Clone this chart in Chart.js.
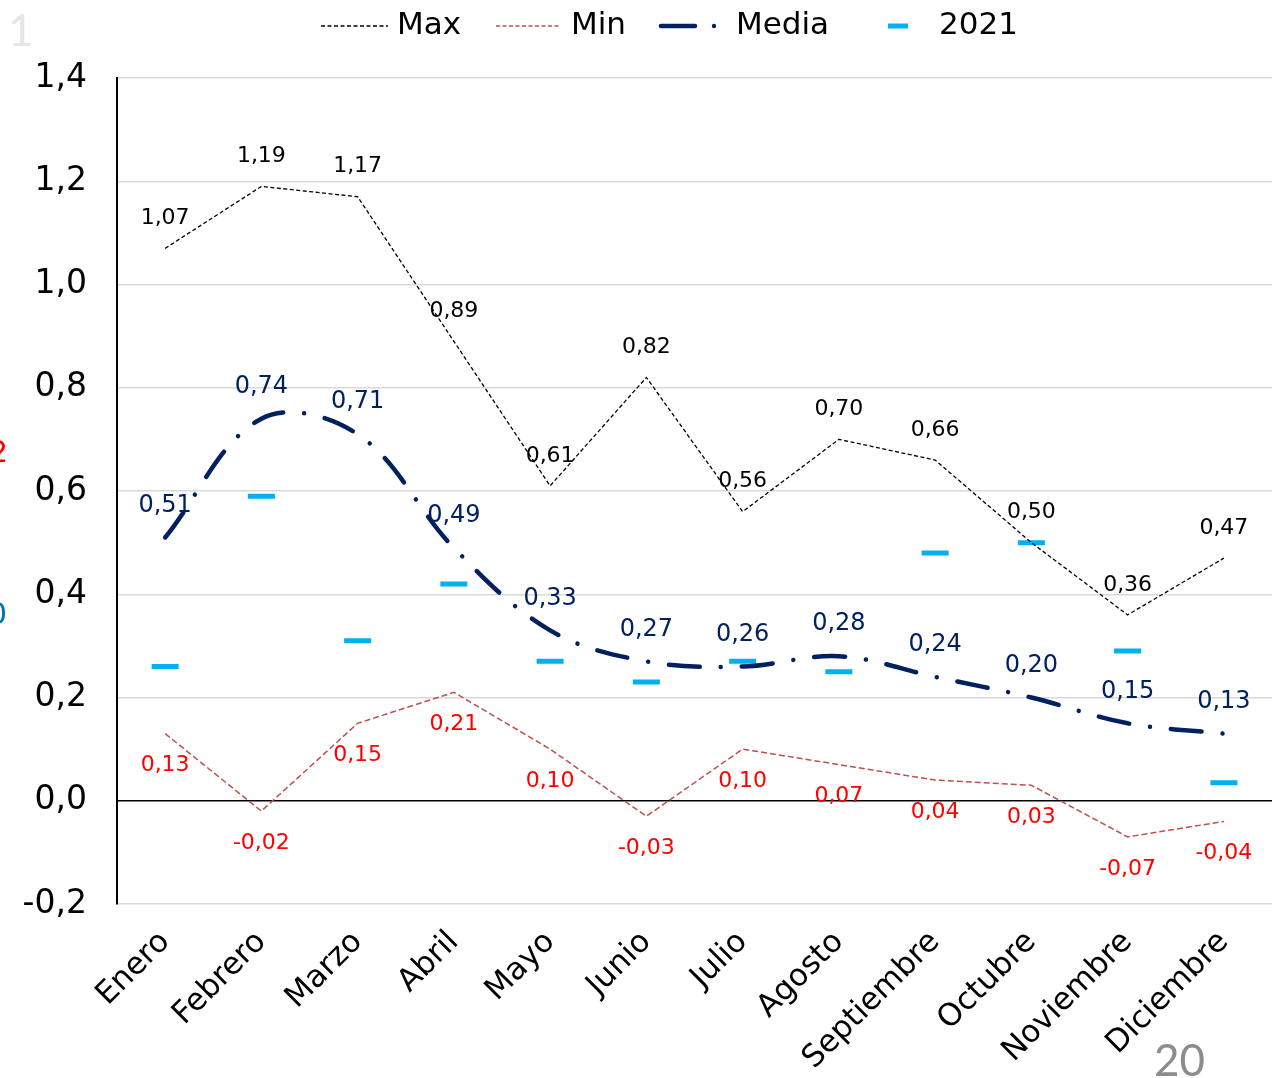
<!DOCTYPE html>
<html>
<head>
<meta charset="utf-8">
<script src="https://cdn.jsdelivr.net/npm/chart.js@4/dist/chart.umd.min.js"></script>
<style>
  html, body { margin: 0; padding: 0; background: #ffffff; overflow: hidden; }
  canvas { display: block; }
</style>
</head>
<body>
<canvas id="chart" width="1276" height="1078"></canvas>
<script>
// Monthly categories
const months = ['Enero', 'Febrero', 'Marzo', 'Abril', 'Mayo', 'Junio', 'Julio',
                'Agosto', 'Septiembre', 'Octubre', 'Noviembre', 'Diciembre'];

// Series values
const maxValues   = [1.07, 1.19, 1.17, 0.89, 0.61, 0.82, 0.56, 0.70, 0.66, 0.50, 0.36, 0.47];
const minValues   = [0.13, -0.02, 0.15, 0.21, 0.10, -0.03, 0.10, 0.07, 0.04, 0.03, -0.07, -0.04];
const mediaValues = [0.51, 0.74, 0.71, 0.49, 0.33, 0.27, 0.26, 0.28, 0.24, 0.20, 0.15, 0.13];
const values2021  = [0.26, 0.59, 0.31, 0.42, 0.27, 0.23, 0.27, 0.25, 0.48, 0.50, 0.29, 0.035];

// Value axis range
const yMin = -0.2;
const yMax = 1.4;
const yStep = 0.2;

const FONT = "'DejaVu Sans', Verdana, sans-serif";
const fmt = (v, d) => {
  const r = Number(v.toFixed(d));
  return (r === 0 ? 0 : r).toFixed(d).replace('.', ',');
};

// Writes each point's value next to it (datasets with a labelOffset)
const valueLabels = {
  id: 'valueLabels',
  afterDatasetsDraw(chart) {
    const ctx = chart.ctx;
    chart.data.datasets.forEach((ds, i) => {
      if (ds.labelOffset === undefined) return;
      const meta = chart.getDatasetMeta(i);
      ctx.save();
      ctx.font = ds.labelFont;
      ctx.fillStyle = ds.labelColor;
      ctx.textAlign = 'center';
      ctx.textBaseline = 'middle';
      meta.data.forEach((pt, j) => {
        ctx.fillText(fmt(ds.data[j], 2), pt.x, pt.y + ds.labelOffset);
      });
      ctx.restore();
    });
  }
};

// Legend row across the top, plus the loose page marks around the edge
const topLegend = {
  id: 'topLegend',
  afterDraw(chart) {
    const ctx = chart.ctx;
    const y = 26;
    ctx.save();
    ctx.font = '31px ' + FONT;
    ctx.textBaseline = 'middle';
    ctx.textAlign = 'left';

    // Max
    ctx.strokeStyle = '#000000';
    ctx.lineWidth = 1.3;
    ctx.setLineDash([4, 2.5]);
    ctx.beginPath(); ctx.moveTo(321, y); ctx.lineTo(388, y); ctx.stroke();
    ctx.fillStyle = '#000000';
    ctx.fillText('Max', 397, y);

    // Min
    ctx.strokeStyle = '#C0504D';
    ctx.beginPath(); ctx.moveTo(496, y); ctx.lineTo(561, y); ctx.stroke();
    ctx.fillText('Min', 571, y);

    // Media
    ctx.setLineDash([]);
    ctx.strokeStyle = '#002060';
    ctx.lineWidth = 4.5;
    ctx.lineCap = 'round';
    ctx.beginPath(); ctx.moveTo(661, y); ctx.lineTo(695, y); ctx.stroke();
    ctx.fillStyle = '#002060';
    ctx.beginPath(); ctx.arc(714, y, 2.2, 0, Math.PI * 2); ctx.fill();
    ctx.fillStyle = '#000000';
    ctx.fillText('Media', 736, y);

    // 2021
    ctx.fillStyle = '#00B0F0';
    ctx.fillRect(888, y - 2.5, 20, 5);
    ctx.fillStyle = '#000000';
    ctx.fillText('2021', 939, y);

    // page marks
    ctx.textBaseline = 'alphabetic';
    ctx.font = '44px Lato, sans-serif';
    ctx.fillStyle = '#e6e6e6';
    ctx.fillText('1', 8, 46);
    ctx.fillStyle = '#8c8c8c';
    ctx.fillText('20', 1154, 1076);
    ctx.font = '30px ' + FONT;
    ctx.fillStyle = '#ff0000';
    ctx.fillText('2', -11, 462);
    ctx.fillStyle = '#0070C0';
    ctx.fillText('0', -12, 624);
    ctx.restore();
  }
};

new Chart(document.getElementById('chart'), {
  type: 'line',
  data: {
    labels: months,
    datasets: [
      {
        label: 'Max',
        data: maxValues,
        borderColor: '#000000',
        borderWidth: 1.3,
        borderDash: [4, 2.5],
        pointRadius: 0,
        tension: 0,
        labelOffset: -30,
        labelFont: '22px ' + FONT,
        labelColor: '#000000'
      },
      {
        label: 'Min',
        data: minValues,
        borderColor: '#C0504D',
        borderWidth: 1.5,
        borderDash: [6, 3],
        pointRadius: 0,
        tension: 0,
        labelOffset: 32,
        labelFont: '22px ' + FONT,
        labelColor: '#ff0000'
      },
      {
        label: 'Media',
        data: mediaValues,
        borderColor: '#002060',
        borderWidth: 4.5,
        borderDash: [31, 21, 0.01, 21],
        borderCapStyle: 'round',
        pointRadius: 0,
        tension: 0.36,
        labelOffset: -32,
        labelFont: '24px ' + FONT,
        labelColor: '#002060'
      },
      {
        label: '2021',
        data: values2021,
        showLine: false,
        pointStyle: 'line',
        pointRadius: 13.5,
        pointHoverRadius: 13.5,
        pointBorderWidth: 5,
        pointBorderColor: '#00B0F0',
        pointBackgroundColor: '#00B0F0',
        borderColor: '#00B0F0'
      }
    ]
  },
  options: {
    responsive: false,
    animation: false,
    devicePixelRatio: 1,
    layout: { autoPadding: false, padding: { top: 78, right: 4, left: 0, bottom: 0 } },
    plugins: {
      legend: { display: false },
      tooltip: { enabled: false }
    },
    scales: {
      x: {
        offset: true,
        grid: { display: false },
        border: { display: false },
        ticks: {
          autoSkip: false,
          minRotation: 45,
          maxRotation: 45,
          padding: 12,
          color: '#000000',
          font: { family: FONT, size: 31 }
        },
        afterFit(scale) {
          scale.height = 174;
          scale.paddingLeft = 0;
          scale.paddingRight = 0;
        }
      },
      y: {
        min: yMin,
        max: yMax,
        ticks: {
          stepSize: yStep,
          padding: 30,
          color: '#000000',
          font: { family: FONT, size: 33 },
          callback: (v) => fmt(v, 1)
        },
        grid: {
          drawTicks: false,
          lineWidth: 1.5,
          color: (c) => (Math.abs(c.tick.value) < 1e-9 ? '#000000' : '#d9d9d9')
        },
        border: { display: true, color: '#000000', width: 2 },
        afterFit(scale) { scale.width = 117; }
      }
    }
  },
  plugins: [valueLabels, topLegend]
});
</script>
</body>
</html>
